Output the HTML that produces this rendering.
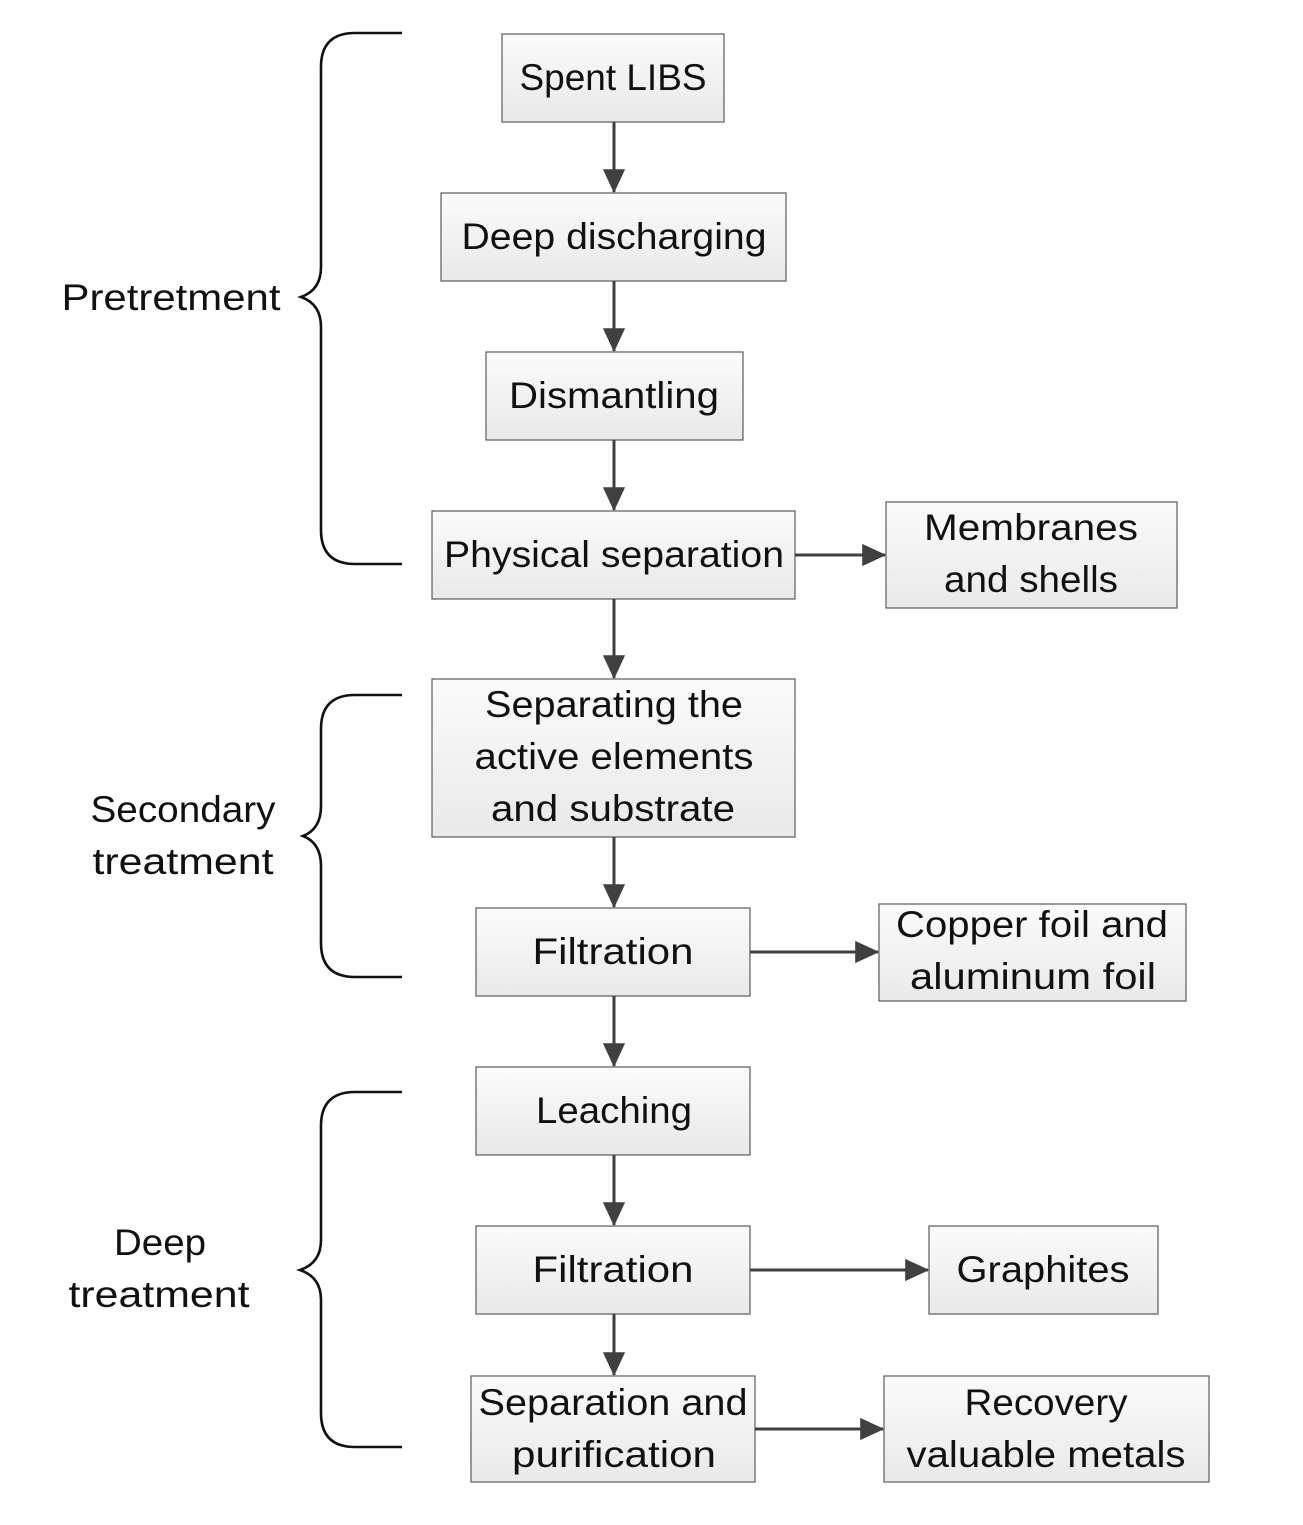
<!DOCTYPE html>
<html><head><meta charset="utf-8"><style>
html,body{margin:0;padding:0;background:#fff}
svg{display:block}
text{font-family:"Liberation Sans",sans-serif;font-size:37px;fill:#111;text-anchor:middle}
</style></head><body>
<svg width="1303" height="1525" viewBox="0 0 1303 1525" xmlns="http://www.w3.org/2000/svg">
<defs>
<linearGradient id="g" x1="0" y1="0" x2="0" y2="1"><stop offset="0" stop-color="#fbfbfb"/><stop offset="1" stop-color="#e9e9e9"/></linearGradient>
<marker id="a" markerWidth="8" markerHeight="8" refX="7.6" refY="4" orient="auto" markerUnits="strokeWidth"><path d="M0,0.3 L8,4 L0,7.7 z" fill="#404040"/></marker>
</defs>
<g fill="url(#g)" stroke="#666" stroke-width="1.3">
<rect x="502" y="34" width="222" height="88"/>
<rect x="441" y="193" width="345" height="88"/>
<rect x="486" y="352" width="257" height="88"/>
<rect x="432" y="511" width="363" height="88"/>
<rect x="886" y="502" width="291" height="106"/>
<rect x="432" y="679" width="363" height="158"/>
<rect x="476" y="908" width="274" height="88"/>
<rect x="879" y="904" width="307" height="97"/>
<rect x="476" y="1067" width="274" height="88"/>
<rect x="476" y="1226" width="274" height="88"/>
<rect x="929" y="1226" width="229" height="88"/>
<rect x="471" y="1376" width="284" height="106"/>
<rect x="884" y="1376" width="325" height="106"/>
</g>
<g stroke="#404040" stroke-width="3" marker-end="url(#a)">
<line x1="614" y1="122" x2="614" y2="192"/>
<line x1="614" y1="281" x2="614" y2="351"/>
<line x1="614" y1="440" x2="614" y2="510"/>
<line x1="614" y1="599" x2="614" y2="678"/>
<line x1="614" y1="837" x2="614" y2="907"/>
<line x1="614" y1="996" x2="614" y2="1066"/>
<line x1="614" y1="1155" x2="614" y2="1225"/>
<line x1="614" y1="1314" x2="614" y2="1375"/>
<line x1="795" y1="555" x2="885" y2="555"/>
<line x1="750" y1="952" x2="878" y2="952"/>
<line x1="750" y1="1270" x2="928" y2="1270"/>
<line x1="755" y1="1429" x2="883" y2="1429"/>
</g>
<g fill="none" stroke="#111" stroke-width="2.6">
<path d="M402,33 L355,33 Q321,33 321,67 L321,267 Q321,290 301,297 Q321,304 321,327 L321,530 Q321,564 355,564 L402,564"/>
<path d="M402,695 L355,695 Q321,695 321,729 L321,806 Q321,829 303,836 Q321,843 321,866 L321,943 Q321,977 355,977 L402,977"/>
<path d="M402,1092 L355,1092 Q321,1092 321,1126 L321,1240 Q321,1263 300,1270 Q321,1277 321,1300 L321,1413 Q321,1447 355,1447 L402,1447"/>
</g>
<g lengthAdjust="spacingAndGlyphs">
<text x="613" y="90" textLength="187" lengthAdjust="spacingAndGlyphs">Spent LIBS</text>
<text x="614" y="249" textLength="305" lengthAdjust="spacingAndGlyphs">Deep discharging</text>
<text x="614" y="408" textLength="210" lengthAdjust="spacingAndGlyphs">Dismantling</text>
<text x="614" y="567" textLength="340" lengthAdjust="spacingAndGlyphs">Physical separation</text>
<text x="1031" y="540" textLength="214" lengthAdjust="spacingAndGlyphs">Membranes</text>
<text x="1031" y="592" textLength="174" lengthAdjust="spacingAndGlyphs">and shells</text>
<text x="614" y="717" textLength="258" lengthAdjust="spacingAndGlyphs">Separating the</text>
<text x="614" y="769" textLength="279" lengthAdjust="spacingAndGlyphs">active elements</text>
<text x="613" y="821" textLength="244" lengthAdjust="spacingAndGlyphs">and substrate</text>
<text x="613" y="964" textLength="161" lengthAdjust="spacingAndGlyphs">Filtration</text>
<text x="1032" y="937" textLength="272" lengthAdjust="spacingAndGlyphs">Copper foil and</text>
<text x="1033" y="989" textLength="246" lengthAdjust="spacingAndGlyphs">aluminum foil</text>
<text x="614" y="1123" textLength="156" lengthAdjust="spacingAndGlyphs">Leaching</text>
<text x="613" y="1282" textLength="161" lengthAdjust="spacingAndGlyphs">Filtration</text>
<text x="1043" y="1282" textLength="173" lengthAdjust="spacingAndGlyphs">Graphites</text>
<text x="613" y="1415" textLength="269" lengthAdjust="spacingAndGlyphs">Separation and</text>
<text x="614" y="1467" textLength="204" lengthAdjust="spacingAndGlyphs">purification</text>
<text x="1046" y="1415" textLength="163" lengthAdjust="spacingAndGlyphs">Recovery</text>
<text x="1046" y="1467" textLength="279" lengthAdjust="spacingAndGlyphs">valuable metals</text>
<text x="171" y="310" textLength="219" lengthAdjust="spacingAndGlyphs">Pretretment</text>
<text x="183" y="822" textLength="185" lengthAdjust="spacingAndGlyphs">Secondary</text>
<text x="183" y="874" textLength="181" lengthAdjust="spacingAndGlyphs">treatment</text>
<text x="160" y="1255" textLength="92" lengthAdjust="spacingAndGlyphs">Deep</text>
<text x="159" y="1307" textLength="181" lengthAdjust="spacingAndGlyphs">treatment</text>
</g>
</svg>
</body></html>
